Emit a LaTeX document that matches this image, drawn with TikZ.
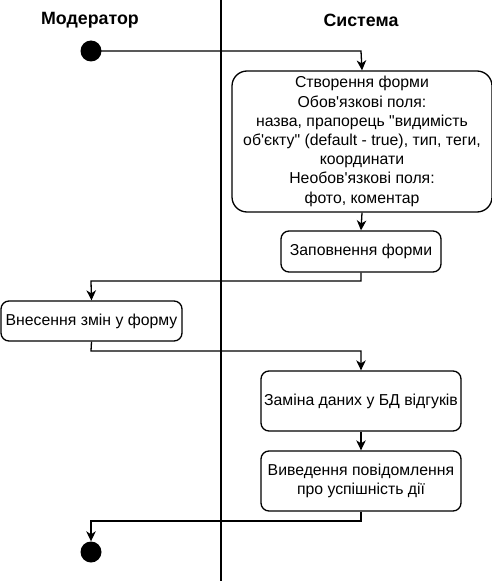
\documentclass[tikz,border=0pt]{standalone}
\usepackage{fontspec}
\setmainfont[Ligatures=TeXOff]{Liberation Sans}
\usetikzlibrary{arrows.meta}
\begin{document}
\begin{tikzpicture}[x=1pt,y=-1pt,
  every node/.style={font=\fontsize{15.8}{19.2}\selectfont},
  act/.style={draw,line width=1.3pt,rounded corners=8pt,align=center,inner sep=0pt},
  hdr/.style={font=\fontsize{17.8}{20}\selectfont\bfseries},
  dot/.style={circle,fill=black,minimum size=21pt,inner sep=0pt},
  flow/.style={line width=1.3pt,-{Stealth[length=10pt,width=9.5pt,inset=3pt]}},
  lane/.style={line width=1.4pt}]
\useasboundingbox (0,0) rectangle (492,583);
\node[hdr] (hm) at (90,20) {Модератор};
\node[hdr] (hs) at (361,20) {Система};
\coordinate (lt) at (221,0);
\coordinate (lb) at (221,581);
\draw[lane] (lt) -- (lb);
\node[dot] (start) at (91,51) {};
\node[act,minimum width=260pt,minimum height=141pt,rounded corners=15pt] (b1) at (362,141.5)
 {Створення форми\\Обов'язкові поля:\\назва, прапорець "видимість\\об'єкту" (default - true), тип, теги,\\координати\\Необов'язкові поля:\\фото, коментар};
\node[act,minimum width=160pt,minimum height=41pt] (b2) at (361,251.5) {Заповнення форми};
\node[act,minimum width=181pt,minimum height=40pt] (b3) at (91.5,321) {Внесення змін у форму};
\node[act,minimum width=200pt,minimum height=60pt] (b4) at (361,401) {Заміна даних у БД відгуків};
\node[act,minimum width=200pt,minimum height=60pt] (b5) at (361,481) {Виведення повідомлення\\про успішність дії};
\node[dot] (end) at (91,552) {};
\draw[flow] (start.center) -- (361,51) -- (b1.north);
\draw[flow] (b1.south) -- (b2.north);
\draw[flow] (b2.south) -- (361,281) -- (91,281) -- (b3.north);
\draw[flow] (b3.south) -- (91,351) -- (361,351) -- (b4.north);
\draw[flow] (b4.south) -- (b5.north);
\draw[flow] (b5.south) -- (361,521) -- (91,521) -- (end.north);
\end{tikzpicture}
\end{document}
